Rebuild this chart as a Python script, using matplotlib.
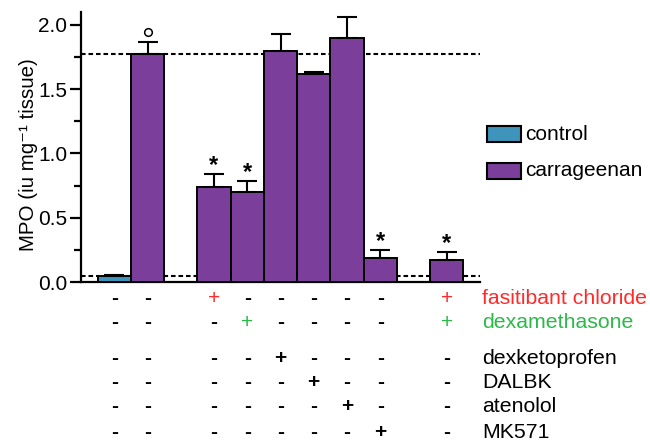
import matplotlib
matplotlib.use("Agg")
import matplotlib.pyplot as plt
from matplotlib.patches import Rectangle
from matplotlib.ticker import MultipleLocator
import matplotlib.transforms as mtransforms

plt.rcParams['font.family'] = ['Liberation Sans', 'DejaVu Sans']

# ---- data ----
slots = [0, 1, 3, 4, 5, 6, 7, 8, 10]
values = [0.05, 1.77, 0.74, 0.70, 1.80, 1.62, 1.90, 0.19, 0.17]
errors = [0.008, 0.10, 0.10, 0.085, 0.13, 0.012, 0.16, 0.06, 0.065]
groups = ['control', 'carrageenan', 'carrageenan', 'carrageenan', 'carrageenan',
          'carrageenan', 'carrageenan', 'carrageenan', 'carrageenan']
marks = ['', 'o', '*', '*', '', '', '', '*', '*']
ref_lines = [1.77, 0.045]

row_labels = ['fasitibant chloride', 'dexamethasone', 'dexketoprofen', 'DALBK', 'atenolol', 'MK571']
row_colors = ['#ff2a2a', '#2db84a', 'black', 'black', 'black', 'black']
row_signs = [
    ['-', '-', '+', '-', '-', '-', '-', '-', '+'],
    ['-', '-', '-', '+', '-', '-', '-', '-', '+'],
    ['-', '-', '-', '-', '+', '-', '-', '-', '-'],
    ['-', '-', '-', '-', '-', '+', '-', '-', '-'],
    ['-', '-', '-', '-', '-', '-', '+', '-', '-'],
    ['-', '-', '-', '-', '-', '-', '-', '+', '-'],
]
row_y_px = [298, 323, 358, 382, 407, 432]

colors = {'control': '#3f94bb', 'carrageenan': '#7b3f9b'}

W, H = 650, 443
fig = plt.figure(figsize=(W / 100, H / 100), dpi=100)
ax = fig.add_axes([81 / W, 1 - 282 / H, (480 - 81) / W, (282 - 12) / H])

for s, v, e, g in zip(slots, values, errors, groups):
    ax.bar(s, v, width=1.0, color=colors[g], edgecolor='black', linewidth=1.4, zorder=3)
    ax.errorbar(s, v, yerr=[[0], [e]], fmt='none', ecolor='black', elinewidth=1.5,
                capsize=7, capthick=1.5, zorder=4)

for s, v, e, m in zip(slots, values, errors, marks):
    if m == '*':
        ax.text(s, v + e + 0.065, '*', ha='center', va='center', fontsize=17,
                fontweight='bold', zorder=5)
    elif m == 'o':
        ax.plot([s], [v + e + 0.075], marker='o', markersize=5.5, markerfacecolor='white',
                markeredgecolor='black', markeredgewidth=1.1, zorder=5, clip_on=False)

for r in ref_lines:
    ax.axhline(r, color='black', linestyle=(0, (2.2, 1.4)), linewidth=1.5, zorder=2)

ax.set_xlim(-1, 11.0)
ax.set_ylim(0, 2.1)
ax.yaxis.set_major_locator(MultipleLocator(0.5))
ax.yaxis.set_minor_locator(MultipleLocator(0.25))
ax.yaxis.set_major_formatter(matplotlib.ticker.FormatStrFormatter('%.1f'))
ax.set_xticks([])
for sp in ['top', 'right']:
    ax.spines[sp].set_visible(False)
ax.spines['left'].set_linewidth(1.6)
ax.spines['bottom'].set_linewidth(1.6)
ax.tick_params(axis='y', which='major', length=8, width=1.6, labelsize=15, pad=2)
ax.tick_params(axis='y', which='minor', length=5, width=1.6)
ax.set_ylabel('MPO (iu mg\u207b\u00b9 tissue)', fontsize=14.8)
ax.yaxis.set_label_coords(-0.108, 0.47)

# treatment table below axis
trans = mtransforms.blended_transform_factory(ax.transData, fig.transFigure)
for lab, col, signs, ypx in zip(row_labels, row_colors, row_signs, row_y_px):
    yf = 1 - ypx / H
    for s, sg in zip(slots, signs):
        c = col if sg == '+' else 'black'
        wt = 'normal' if (sg == '+' and col != 'black') else 'bold'
        ax.text(s, yf, sg, transform=trans, ha='center', va='center', fontsize=15,
                color=c, fontweight=wt, clip_on=False)
    fig.text(482 / W, yf, lab, ha='left', va='center', fontsize=15.3, color=col)

# legend
leg = [('control', 134), ('carrageenan', 171)]
for name, ypx in leg:
    fig.patches.append(Rectangle((487 / W, 1 - (ypx + 8) / H), 34 / W, 16 / H,
                                 transform=fig.transFigure, facecolor=colors[name],
                                 edgecolor='black', linewidth=1.5))
    fig.text(525 / W, 1 - ypx / H, name, ha='left', va='center', fontsize=15)

fig.savefig('out.png', dpi=100)
